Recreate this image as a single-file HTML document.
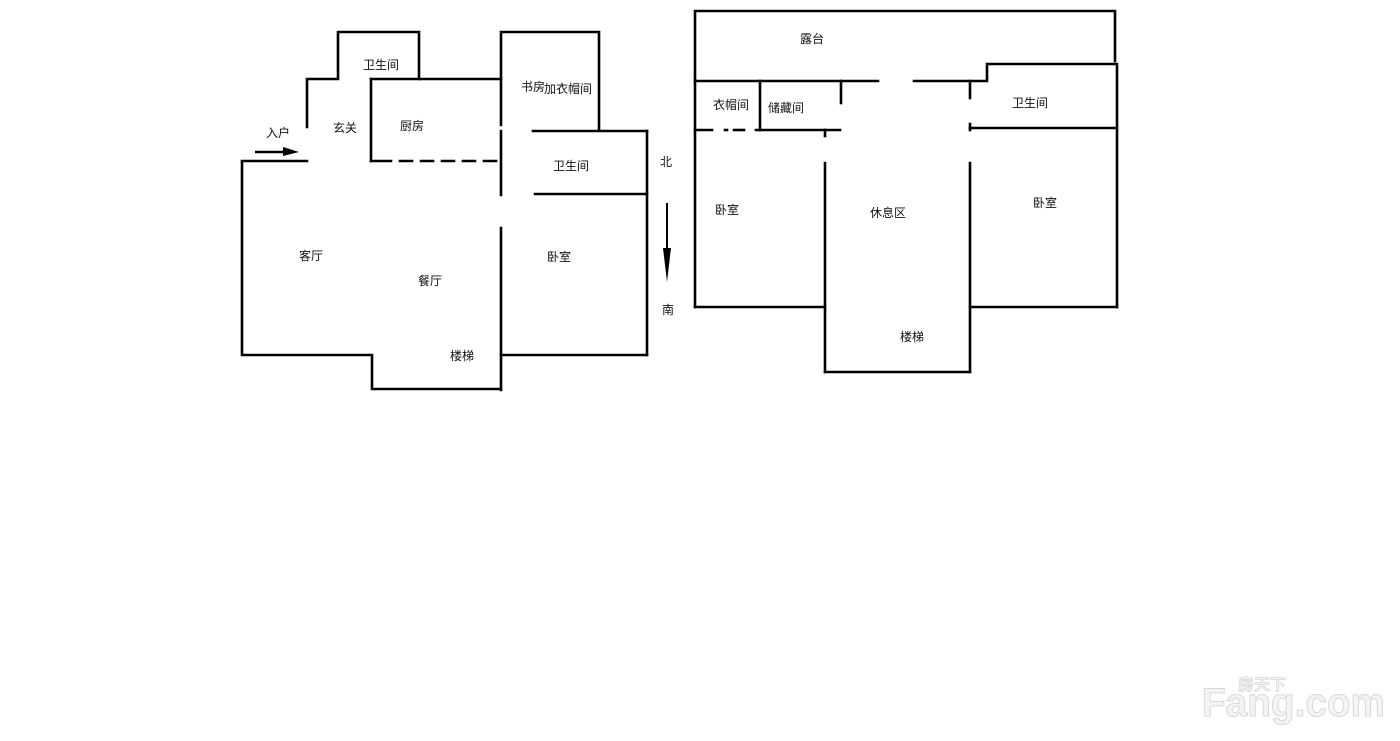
<!DOCTYPE html>
<html><head><meta charset="utf-8"><style>
html,body{margin:0;padding:0;background:#fff;}
svg{display:block;}
text{font-family:"Liberation Sans","Noto Sans CJK SC",sans-serif;font-size:12px;fill:#111;}
</style></head><body>
<svg width="1400" height="741" viewBox="0 0 1400 741" xmlns="http://www.w3.org/2000/svg">
<g stroke="#000" stroke-width="2.6" fill="none" stroke-linecap="square">
<polyline points="307,127 307,79 338,79 338,32 419,32 419,79"/>
<line x1="371" y1="79" x2="501" y2="79"/>
<polyline points="501,125 501,32 599,32 599,130"/>
<line x1="533" y1="131" x2="647" y2="131"/>
<line x1="647" y1="131" x2="647" y2="355"/>
<line x1="371" y1="79" x2="371" y2="161"/>
<line x1="371" y1="161" x2="391" y2="161"/>
<line x1="400" y1="161" x2="501" y2="161" stroke-dasharray="12,9"/>
<line x1="501" y1="131" x2="501" y2="195"/>
<line x1="501" y1="228" x2="501" y2="390"/>
<line x1="535" y1="194" x2="647" y2="194"/>
<polyline points="307,161 242,161 242,355 372,355 372,389 501,389"/>
<line x1="501" y1="355" x2="647" y2="355"/>
<polyline points="695,80 695,11 1115,11 1115,61"/>
<line x1="695" y1="81" x2="695" y2="307"/>
<line x1="695" y1="81" x2="878" y2="81"/>
<polyline points="914,81 987,81 987,64 1117,64 1117,307"/>
<line x1="760" y1="81" x2="760" y2="130"/>
<line x1="841" y1="81" x2="841" y2="103"/>
<line x1="695" y1="130" x2="712" y2="130"/>
<line x1="725" y1="130" x2="727" y2="130"/>
<line x1="734" y1="130" x2="744" y2="130"/>
<line x1="756" y1="130" x2="840" y2="130"/>
<line x1="825" y1="130" x2="825" y2="136"/>
<line x1="825" y1="163" x2="825" y2="372"/>
<line x1="970" y1="81" x2="970" y2="98"/>
<line x1="970" y1="124" x2="970" y2="130"/>
<line x1="970" y1="163" x2="970" y2="372"/>
<line x1="970" y1="128" x2="1117" y2="128"/>
<line x1="695" y1="307" x2="825" y2="307"/>
<line x1="970" y1="307" x2="1117" y2="307"/>
<line x1="825" y1="372" x2="970" y2="372"/>
</g>
<line x1="255" y1="152" x2="286" y2="152" stroke="#000" stroke-width="2.6"/>
<polygon points="283,147 299,152 283,156" fill="#000"/>
<line x1="667" y1="203" x2="667" y2="262" stroke="#000" stroke-width="2"/>
<polygon points="663,248 667,282 671,248" fill="#000"/>
<g text-anchor="middle">
<text x="278" y="137">入户</text>
<text x="381" y="69">卫生间</text>
<text x="345" y="132">玄关</text>
<text x="412" y="130">厨房</text>
<text x="533" y="91">书房</text>
<text x="568" y="93">加衣帽间</text>
<text x="571" y="170">卫生间</text>
<text x="311" y="260">客厅</text>
<text x="430" y="285">餐厅</text>
<text x="559" y="261">卧室</text>
<text x="462" y="360">楼梯</text>
<text x="666" y="166">北</text>
<text x="668" y="314">南</text>
<text x="812" y="43">露台</text>
<text x="731" y="109">衣帽间</text>
<text x="786" y="112">储藏间</text>
<text x="1030" y="107">卫生间</text>
<text x="727" y="214">卧室</text>
<text x="888" y="217">休息区</text>
<text x="1045" y="207">卧室</text>
<text x="912" y="341">楼梯</text>
</g>
<text x="1202" y="716" textLength="183" lengthAdjust="spacingAndGlyphs" style="font-size:40px;font-weight:bold;fill:#f4f4f4;stroke:#d8d8d8;stroke-width:1">Fang.com</text>
<text x="1238" y="690" style="font-size:16px;font-weight:bold;fill:#f4f4f4;stroke:#d8d8d8;stroke-width:0.8">房天下</text>
</svg>
</body></html>
